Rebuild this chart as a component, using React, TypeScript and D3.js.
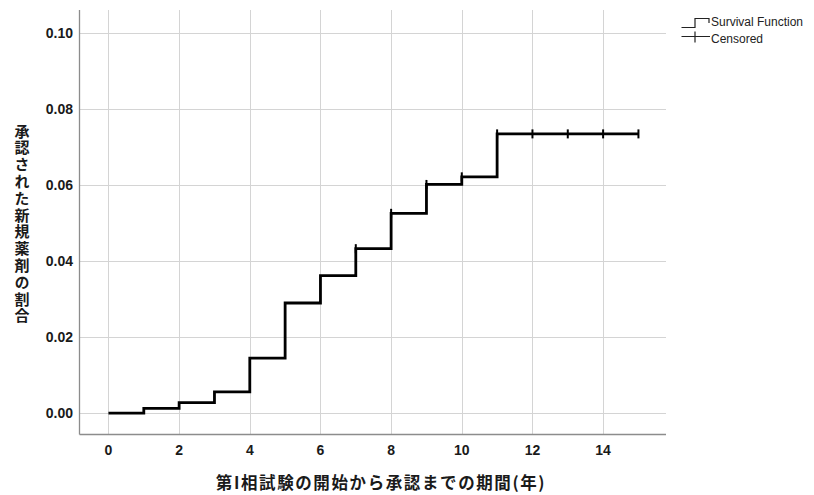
import { useMemo } from "react";
import * as d3 from "d3";

// Kaplan-Meier style cumulative approval proportion (step after)
const stepTimes = [0, 1, 2, 3, 4, 5, 6, 7, 8, 9, 10, 11, 15];
const stepValues = [0, 0.0013, 0.0028, 0.0056, 0.0145, 0.029, 0.0362, 0.0433, 0.0526, 0.0602, 0.0622, 0.0735, 0.0735];
const censoredTimes = [7, 8, 9, 10, 11, 12, 13, 14, 15];

const xTicks = [0, 2, 4, 6, 8, 10, 12, 14];
const yTicks = [0, 0.02, 0.04, 0.06, 0.08, 0.1];

const xTitle = "第I相試験の開始から承認までの期間(年)";
const yTitle = "承認された新規薬剤の割合";
const legendItems = ["Survival Function", "Censored"];

const width = 814;
const height = 495;
const left = 79.5;
const right = 666;
const top = 10;
const bottom = 434.5;

const numFont = "'Liberation Sans', Arial, sans-serif";
const jpFont = "'Noto Sans CJK JP', sans-serif";

function App() {
  const x = d3.scaleLinear().domain([-0.82, 15.78]).range([left, right]);
  const y = d3.scaleLinear().domain([-0.0056, 0.1061]).range([bottom, top]);

  const stepPath = useMemo(() => {
    const pts = stepTimes.map((t, i) => [t, stepValues[i]] as [number, number]);
    return d3
      .line<[number, number]>()
      .x((d) => x(d[0]))
      .y((d) => y(d[1]))
      .curve(d3.curveStepAfter)(pts);
  }, []);

  // value of step function at t (right-continuous)
  const valueAt = (t: number) => {
    const i = d3.bisectRight(stepTimes, t) - 1;
    return stepValues[Math.max(0, i)];
  };

  return (
    <svg width={width} height={height} style={{ display: "block" }}>
      <style>{"body{margin:0}"}</style>
      <rect width={width} height={height} fill="#fff" />

      {/* grid */}
      <g stroke="#d4d4d4" strokeWidth={1}>
        {xTicks.map((t) => (
          <line key={"gx" + t} x1={Math.round(x(t)) + 0.5} x2={Math.round(x(t)) + 0.5} y1={top} y2={bottom} />
        ))}
        {yTicks.map((t) => (
          <line key={"gy" + t} x1={left} x2={right} y1={Math.round(y(t)) + 0.5} y2={Math.round(y(t)) + 0.5} />
        ))}
      </g>

      {/* axes */}
      <g stroke="#8c8c8c" strokeWidth={1.3}>
        <line x1={left} x2={left} y1={top} y2={bottom} />
        <line x1={left} x2={right} y1={bottom} y2={bottom} />
      </g>

      {/* tick labels */}
      <g fontFamily={numFont} fontWeight="bold" fontSize={14} fill="#1a1a1a">
        {yTicks.map((t) => (
          <text key={"ly" + t} x={73} y={y(t) + 5} textAnchor="end">
            {d3.format(".2f")(t)}
          </text>
        ))}
        {xTicks.map((t) => (
          <text key={"lx" + t} x={x(t)} y={455} textAnchor="middle">
            {t}
          </text>
        ))}
      </g>

      {/* survival step line */}
      <path d={stepPath ?? ""} fill="none" stroke="#000" strokeWidth={2.8} strokeLinejoin="miter" />

      {/* censored marks */}
      <g stroke="#000" strokeWidth={2}>
        {censoredTimes.map((t) => (
          <line key={"c" + t} x1={x(t)} x2={x(t)} y1={y(valueAt(t)) - 4.5} y2={y(valueAt(t)) + 4.5} />
        ))}
      </g>

      {/* axis titles */}
      <text
        x={381}
        y={489}
        textAnchor="middle"
        fontFamily={jpFont}
        fontWeight="bold"
        fontSize={16.5}
        letterSpacing={1.6}
        fill="#1a1a1a"
      >
        {xTitle}
      </text>
      <text
        x={22}
        y={(top + bottom) / 2 + 2}
        textAnchor="middle"
        fontFamily={jpFont}
        fontWeight="bold"
        fontSize={15}
        letterSpacing={1.8}
        fill="#1a1a1a"
        style={{ writingMode: "vertical-rl" }}
      >
        {yTitle}
      </text>

      {/* legend */}
      <g fontFamily={numFont} fontSize={12} fill="#222">
        <path d="M681.5,27.5H695V18.5H709V23" fill="none" stroke="#222" strokeWidth={1.2} />
        <text x={711} y={26}>{legendItems[0]}</text>
        <path d="M681.5,36.5H710M695,31.5V42.5" fill="none" stroke="#222" strokeWidth={1.2} />
        <text x={711} y={43}>{legendItems[1]}</text>
      </g>
    </svg>
  );
}

export default App;
